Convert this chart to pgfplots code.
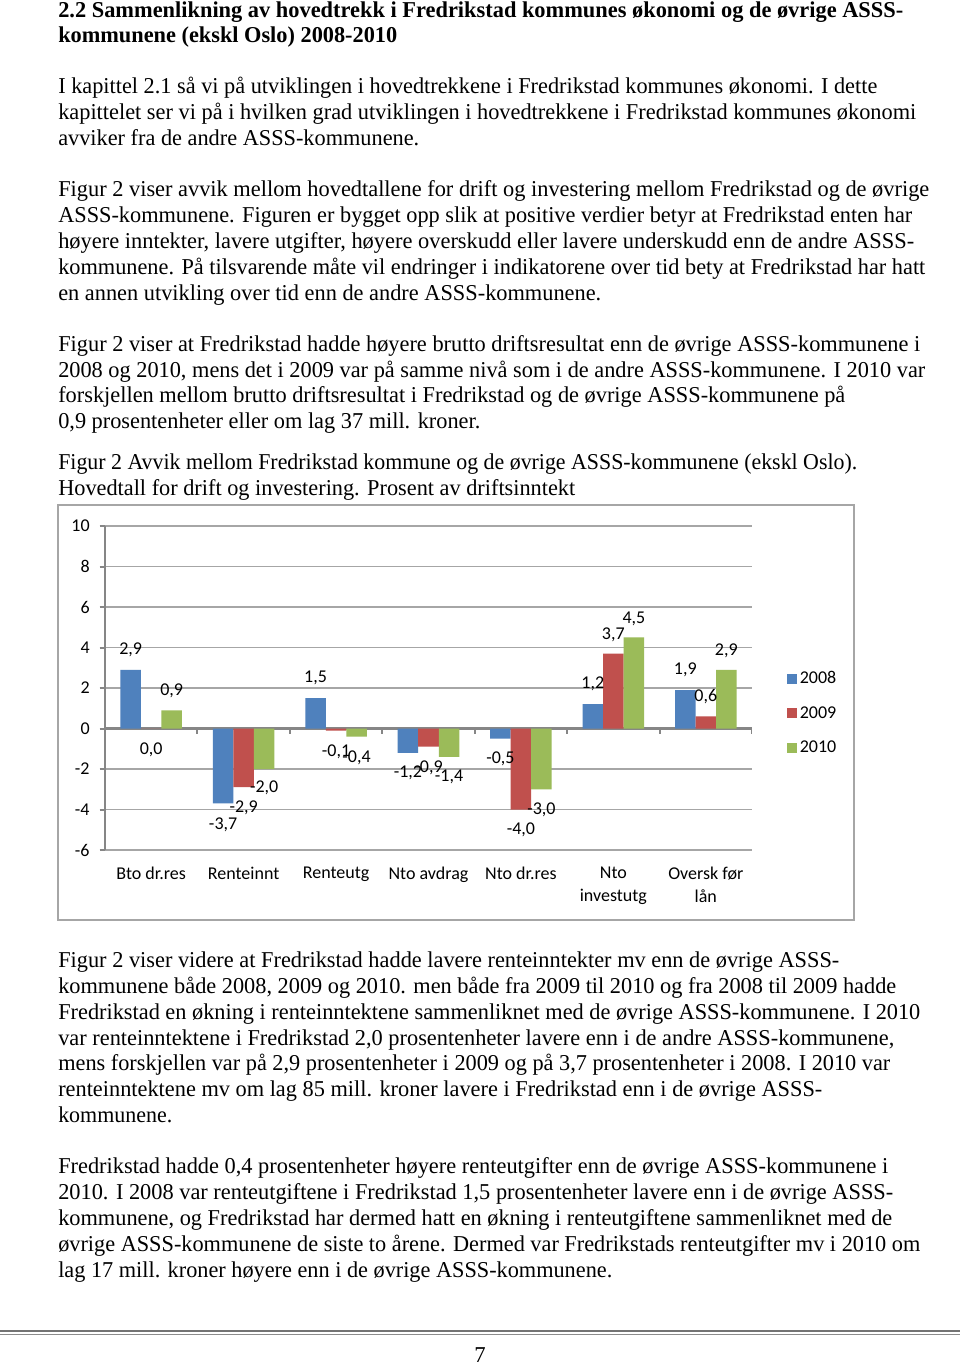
\documentclass[border=0pt]{standalone}
\usepackage{pgfplots}
\pgfplotsset{compat=1.18}
\usepackage{fontspec}
\setmainfont{Liberation Serif}
\newfontfamily\chartfont{Carlito}
\usepackage{graphicx}
\definecolor{b08}{HTML}{4F81BD}
\definecolor{r09}{HTML}{C0504D}
\definecolor{g10}{HTML}{9BBB59}
\definecolor{axgray}{HTML}{868686}
\definecolor{gridgray}{HTML}{A6A6A6}
\newlength\pxu \setlength\pxu{0.75pt}
\newcommand\tl[3]{\node[anchor=base west, inner sep=0pt] at (58,#1) {\resizebox{#2\pxu}{\height}{\fontsize{17}{20}\selectfont #3}};}
\newcommand\tlb[3]{\node[anchor=base west, inner sep=0pt] at (58,#1) {\resizebox{#2\pxu}{\height}{\fontsize{17}{20}\selectfont\bfseries #3}};}
\newcommand\cf{\chartfont\fontsize{13.5}{17.25}\selectfont}
\begin{document}
\begin{tikzpicture}
\path[use as bounding box] (0pt,0pt) rectangle (720pt,-1023.75pt);
\begin{scope}[x=0.75pt,y=-0.75pt]
\fill[white] (0,0) rectangle (960,1365);
\tlb{17}{845}{2.2 Sammenlikning av hovedtrekk i Fredrikstad kommunes økonomi og de øvrige ASSS-}
\tlb{42}{339}{kommunene (ekskl Oslo) 2008-2010}
\tl{93}{819}{I kapittel 2.1 så vi på utviklingen i hovedtrekkene i Fredrikstad kommunes økonomi. I dette}
\tl{119}{858}{kapittelet ser vi på i hvilken grad utviklingen i hovedtrekkene i Fredrikstad kommunes økonomi}
\tl{145}{361}{avviker fra de andre ASSS-kommunene.}
\tl{196}{871}{Figur 2 viser avvik mellom hovedtallene for drift og investering mellom Fredrikstad og de øvrige}
\tl{222}{854}{ASSS-kommunene. Figuren er bygget opp slik at positive verdier betyr at Fredrikstad enten har}
\tl{248}{856}{høyere inntekter, lavere utgifter, høyere overskudd eller lavere underskudd enn de andre ASSS-}
\tl{274}{867}{kommunene. På tilsvarende måte vil endringer i indikatorene over tid bety at Fredrikstad har hatt}
\tl{300}{543}{en annen utvikling over tid enn de andre ASSS-kommunene.}
\tl{351}{862}{Figur 2 viser at Fredrikstad hadde høyere brutto driftsresultat enn de øvrige ASSS-kommunene i}
\tl{377}{867}{2008 og 2010, mens det i 2009 var på samme nivå som i de andre ASSS-kommunene. I 2010 var}
\tl{402}{787}{forskjellen mellom brutto driftsresultat i Fredrikstad og de øvrige ASSS-kommunene på}
\tl{428}{422}{0,9 prosentenheter eller om lag 37 mill. kroner.}
\tl{469}{799}{Figur 2 Avvik mellom Fredrikstad kommune og de øvrige ASSS-kommunene (ekskl Oslo).}
\tl{495}{517}{Hovedtall for drift og investering. Prosent av driftsinntekt}
\tl{967}{781}{Figur 2 viser videre at Fredrikstad hadde lavere renteinntekter mv enn de øvrige ASSS-}
\tl{993}{838}{kommunene både 2008, 2009 og 2010. men både fra 2009 til 2010 og fra 2008 til 2009 hadde}
\tl{1019}{862}{Fredrikstad en økning i renteinntektene sammenliknet med de øvrige ASSS-kommunene. I 2010}
\tl{1045}{836}{var renteinntektene i Fredrikstad 2,0 prosentenheter lavere enn i de andre ASSS-kommunene,}
\tl{1070}{832}{mens forskjellen var på 2,9 prosentenheter i 2009 og på 3,7 prosentenheter i 2008. I 2010 var}
\tl{1096}{764}{renteinntektene mv om lag 85 mill. kroner lavere i Fredrikstad enn i de øvrige ASSS-}
\tl{1122}{114}{kommunene.}
\tl{1173}{830}{Fredrikstad hadde 0,4 prosentenheter høyere renteutgifter enn de øvrige ASSS-kommunene i}
\tl{1199}{835}{2010. I 2008 var renteutgiftene i Fredrikstad 1,5 prosentenheter lavere enn i de øvrige ASSS-}
\tl{1225}{834}{kommunene, og Fredrikstad har dermed hatt en økning i renteutgiftene sammenliknet med de}
\tl{1251}{862}{øvrige ASSS-kommunene de siste to årene. Dermed var Fredrikstads renteutgifter mv i 2010 om}
\tl{1277}{554}{lag 17 mill. kroner høyere enn i de øvrige ASSS-kommunene.}
\draw[gridgray, line width=1.5pt] (58,505) rectangle (854,920);
\draw[black!55, line width=2pt] (0,1331) -- (960,1331);
\draw[black!45, line width=0.8pt] (0,1334.5) -- (960,1334.5);
\node[anchor=base, inner sep=0pt] at (480,1362) {\fontsize{17}{20}\selectfont 7};
\end{scope}
\begin{axis}[
  at={(78.75pt,-637.5pt)}, anchor=south west,
  scale only axis, width=485.25pt, height=243pt,
  xmin=-0.5, xmax=6.5, ymin=-6, ymax=10,
  ytick={-6,-4,...,10},
  xtick={0,...,6},
  xticklabels={Bto dr.res, Renteinnt, Renteutg, Nto avdrag, Nto dr.res, {Nto\\investutg}, {Oversk før\\lån}},
  xticklabel style={align=center, font=\cf, yshift=-5pt},
  yticklabel style={font=\cf, xshift=-4pt},
  /pgf/number format/assume math mode=true,
  axis lines*=left,
  x axis line style={draw=none},
  y axis line style={draw=axgray, line width=2.2pt},
  xtick style={draw=none},
  ytick style={draw=axgray, line width=1.5pt},
  tick align=outside, major tick length=4pt,
  ymajorgrids, grid style={draw=gridgray, line width=1pt},
  extra y ticks={0}, extra y tick labels={},
  extra y tick style={ymajorgrids=true, major grid style={draw=axgray, line width=2.2pt}, major tick length=0pt},
  legend style={at={(1.054,0.423)}, anchor=west, draw=none, fill=none, font=\cf, row sep=11.5pt, inner sep=0pt},
  legend cell align=left,
  legend image code/.code={\draw[#1,draw=none] (0pt,-3.75pt) rectangle (7.5pt,3.75pt);},
  nodes near coords align={center},
]
\addplot[ybar, bar width=0.222, bar shift=-0.222, fill=b08, draw=none] coordinates {(0,2.9) (1,-3.7) (2,1.5) (3,-1.2) (4,-0.5) (5,1.2) (6,1.9)};
\addlegendentry{2008}
\addplot[ybar, bar width=0.222, bar shift=0, fill=r09, draw=none] coordinates {(0,0.0) (1,-2.9) (2,-0.1) (3,-0.9) (4,-4.0) (5,3.7) (6,0.6)};
\addlegendentry{2009}
\addplot[ybar, bar width=0.222, bar shift=0.222, fill=g10, draw=none] coordinates {(0,0.9) (1,-2.0) (2,-0.4) (3,-1.4) (4,-3.0) (5,4.5) (6,2.9)};
\addlegendentry{2010}
% boundary tick marks on the zero line
\addplot[draw=axgray, line width=1.5pt, mark=none, forget plot, unbounded coords=jump] coordinates {(0.5,0) (0.5,-0.25) (0.5,nan) (1.5,0) (1.5,-0.25) (1.5,nan) (2.5,0) (2.5,-0.25) (2.5,nan) (3.5,0) (3.5,-0.25) (3.5,nan) (4.5,0) (4.5,-0.25) (4.5,nan) (5.5,0) (5.5,-0.25) (5.5,nan) (6.5,0) (6.5,-0.25)};
% data labels
\addplot[draw=none, mark=none, forget plot, nodes near coords, point meta=explicit symbolic, nodes near coords style={text=black, font=\cf, anchor=center, inner sep=0pt}] coordinates {(-0.222,3.9) [2,9] (0.778,-4.75) [-3,7] (1.778,2.5) [1,5] (2.778,-2.2) [-1,2] (3.778,-1.5) [-0,5] (4.778,2.2) [1,2] (5.778,2.9) [1,9]};
\addplot[draw=none, mark=none, forget plot, nodes near coords, point meta=explicit symbolic, nodes near coords style={text=black, font=\cf, anchor=center, inner sep=0pt}] coordinates {(0,-1.05) [0,0] (1,-3.9) [-2,9] (2,-1.15) [-0,1] (3,-1.95) [-0,9] (4,-5.0) [-4,0] (5,4.65) [3,7] (6,1.6) [0,6]};
\addplot[draw=none, mark=none, forget plot, nodes near coords, point meta=explicit symbolic, nodes near coords style={text=black, font=\cf, anchor=center, inner sep=0pt}] coordinates {(0.222,1.85) [0,9] (1.222,-2.95) [-2,0] (2.222,-1.45) [-0,4] (3.222,-2.4) [-1,4] (4.222,-4.0) [-3,0] (5.222,5.4) [4,5] (6.222,3.85) [2,9]};
\end{axis}
\end{tikzpicture}
\end{document}
